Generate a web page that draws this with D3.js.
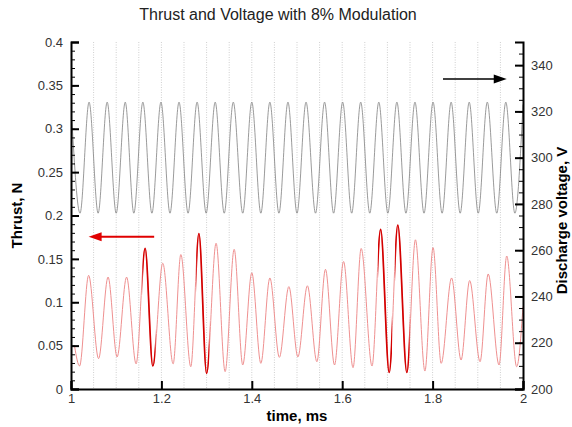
<!DOCTYPE html>
<html>
<head>
<meta charset="utf-8">
<script src="https://cdn.jsdelivr.net/npm/d3@7"></script>
<style>
  body { margin: 0; background: #fff; }
  text { font-family: "Liberation Sans", Arial, Helvetica, sans-serif; }
</style>
</head>
<body>
<svg width="572" height="427"></svg>
<script>
// thrust extrema (time in ms, thrust in N)
var thrustTime = [1.008, 1.019, 1.039, 1.061, 1.082, 1.102, 1.123, 1.144, 1.164, 1.181,
    1.203, 1.226, 1.243, 1.265, 1.283, 1.300, 1.321, 1.341, 1.361, 1.380,
    1.400, 1.420, 1.440, 1.461, 1.482, 1.502, 1.523, 1.544, 1.563, 1.583,
    1.603, 1.624, 1.642, 1.666, 1.685, 1.704, 1.723, 1.743, 1.762, 1.783,
    1.801, 1.819, 1.842, 1.863, 1.882, 1.905, 1.923, 1.947, 1.964, 1.986, 2.0];
var thrustN = [0.049, 0.0265, 0.131, 0.035, 0.129, 0.037, 0.129, 0.029, 0.162, 0.0265,
    0.145, 0.029, 0.155, 0.0257, 0.179, 0.018, 0.168, 0.020, 0.161, 0.0277,
    0.134, 0.0296, 0.128, 0.0365, 0.118, 0.037, 0.119, 0.0315, 0.138, 0.0277,
    0.147, 0.0246, 0.162, 0.0265, 0.184, 0.019, 0.189, 0.019, 0.172, 0.0207,
    0.163, 0.0296, 0.128, 0.0334, 0.125, 0.0315, 0.1326, 0.0277, 0.1533, 0.0257, 0.095];
// cycles drawn heavier (peak time, following trough time)
var boldCycles = [[1.164, 1.181], [1.283, 1.300], [1.685, 1.704], [1.723, 1.743]];

// discharge voltage extrema (time in ms, volts)
var voltTime = [1.002, 1.020, 1.040, 1.060, 1.080, 1.100, 1.120, 1.139, 1.159, 1.179,
    1.199, 1.219, 1.239, 1.259, 1.279, 1.299, 1.319, 1.339, 1.359, 1.380,
    1.400, 1.420, 1.440, 1.460, 1.480, 1.500, 1.520, 1.541, 1.561, 1.581,
    1.601, 1.621, 1.641, 1.661, 1.681, 1.701, 1.721, 1.741, 1.761, 1.781,
    1.801, 1.821, 1.841, 1.861, 1.881, 1.901, 1.921, 1.942, 1.962, 1.982, 2.0];
var voltV = [316, 276, 324, 276, 324, 276, 324, 276, 324, 276,
    324, 276, 324, 276, 324, 276, 324, 276, 324, 276,
    324, 276, 324, 276, 324, 276, 324, 276, 324, 276,
    324, 276, 324, 276, 324, 276, 324, 276, 324, 276,
    324, 276, 324, 276, 324, 276, 324, 276, 324, 276, 323];

var xTicks = [1, 1.2, 1.4, 1.6, 1.8, 2];
var gridTicks = [1.05, 1.1, 1.15, 1.2, 1.25, 1.3, 1.35, 1.4, 1.45, 1.5, 1.55, 1.6, 1.65, 1.7, 1.75, 1.8, 1.85, 1.9, 1.95];
var thrustTicks = [0, 0.05, 0.1, 0.15, 0.2, 0.25, 0.3, 0.35, 0.4];
var voltTicks = [200, 220, 240, 260, 280, 300, 320, 340];

var svg = d3.select("svg");
var plotL = 71, plotR = 523, plotT = 42, plotB = 389;

var xScale = d3.scaleLinear().domain([1, 2]).range([plotL, plotR]);
var yScale = d3.scaleLinear().domain([0, 0.4]).range([plotB, plotT]);
var vScale = d3.scaleLinear().domain([200, 350]).range([plotB, plotT]);

// dotted vertical grid
svg.append("g").selectAll("line").data(gridTicks).enter().append("line")
    .attr("x1", function (d) { return xScale(d) }).attr("x2", function (d) { return xScale(d) })
    .attr("y1", plotT).attr("y2", plotB)
    .style("stroke", "#cfcfcf").style("stroke-width", 1).style("stroke-dasharray", "1,1.5");

var thrust = thrustTime.map(function (t, i) { return [t, thrustN[i]] });
var volt = voltTime.map(function (t, i) { return [t, voltV[i]] });

var thrustLine = d3.line().curve(d3.curveMonotoneX)
    .x(function (d) { return xScale(d[0]) }).y(function (d) { return yScale(d[1]) });
var voltLine = d3.line().curve(d3.curveMonotoneX)
    .x(function (d) { return xScale(d[0]) }).y(function (d) { return vScale(d[1]) });

svg.append("path").datum(volt).attr("d", voltLine)
    .style("fill", "none").style("stroke", "#808080").style("stroke-width", 0.8);

svg.append("path").datum(thrust).attr("d", thrustLine)
    .style("fill", "none").style("stroke", "#ef9090").style("stroke-width", 1);

// heavier cycles: same path clipped to each cycle's falling edge
var defs = svg.append("defs");
boldCycles.forEach(function (c, i) {
    defs.append("clipPath").attr("id", "bold" + i).append("rect")
        .attr("x", xScale(c[0] - 0.006)).attr("width", xScale(c[1] + 0.006) - xScale(c[0] - 0.006))
        .attr("y", plotT).attr("height", plotB - plotT);
    svg.append("path").datum(thrust).attr("d", thrustLine)
        .attr("clip-path", "url(#bold" + i + ")")
        .style("fill", "none").style("stroke", "#d40000").style("stroke-width", 1.7);
});

// axes
var xAxis = d3.axisBottom(xScale).tickValues(xTicks).tickSize(-8).tickPadding(5)
    .tickFormat(d3.format("~g"));
var gx = svg.append("g").attr("transform", "translate(0," + plotB + ")").call(xAxis);

var yAxis = d3.axisLeft(yScale).tickValues(thrustTicks).tickSize(-8).tickPadding(8)
    .tickFormat(d3.format("~g"));
var gy = svg.append("g").attr("transform", "translate(" + plotL + ",0)").call(yAxis);
svg.append("g").attr("transform", "translate(" + plotL + ",0)")
    .call(d3.axisLeft(yScale).ticks(40).tickSize(-4).tickFormat(""))
    .select(".domain").remove();

var vAxis = d3.axisRight(vScale).tickValues(voltTicks).tickSize(-8).tickPadding(8);
var gv = svg.append("g").attr("transform", "translate(" + plotR + ",0)").call(vAxis);
svg.append("g").attr("transform", "translate(" + plotR + ",0)")
    .call(d3.axisRight(vScale).ticks(30).tickSize(-4).tickFormat(""))
    .select(".domain").remove();

[gx, gy, gv].forEach(function (g) {
    g.select(".domain").style("stroke", "#000").style("stroke-width", 2);
    g.selectAll(".tick line").style("stroke", "#000").style("stroke-width", 2);
    g.selectAll(".tick text").style("font-size", "13px").style("fill", "#333");
});
svg.selectAll(".tick line").style("stroke", "#000");

// titles
svg.append("text").attr("x", 278).attr("y", 20).attr("text-anchor", "middle")
    .style("font-size", "16px").style("fill", "#222").text("Thrust and Voltage with 8% Modulation");
svg.append("text").attr("x", (plotL + plotR) / 2).attr("y", 421).attr("text-anchor", "middle")
    .style("font-size", "15px").style("font-weight", "bold").text("time, ms");
svg.append("text").attr("transform", "translate(22," + (plotT + plotB) / 2 + ") rotate(-90)")
    .attr("text-anchor", "middle").style("font-size", "15px").style("font-weight", "bold").text("Thrust, N");
svg.append("text").attr("transform", "translate(567," + (plotT + plotB + 10) / 2 + ") rotate(-90)")
    .attr("text-anchor", "middle").style("font-size", "15px").style("font-weight", "bold").text("Discharge voltage, V");

// arrows showing which axis each curve belongs to
function arrow(x1, y1, x2, y2, color, width) {
    var dir = x2 > x1 ? 1 : -1;
    svg.append("line").attr("x1", x1).attr("y1", y1).attr("x2", x2 - dir * 10).attr("y2", y2)
        .style("stroke", color).style("stroke-width", width);
    svg.append("path")
        .attr("d", "M" + x2 + "," + y2 + "L" + (x2 - dir * 13) + "," + (y2 - 4.5) + "L" + (x2 - dir * 13) + "," + (y2 + 4.5) + "Z")
        .style("fill", color);
}
arrow(xScale(1.823), vScale(334), xScale(1.964), vScale(334), "#000", 1.6);
arrow(xScale(1.184), yScale(0.1756), xScale(1.039), yScale(0.1756), "#e00000", 2);
</script>
</body>
</html>
